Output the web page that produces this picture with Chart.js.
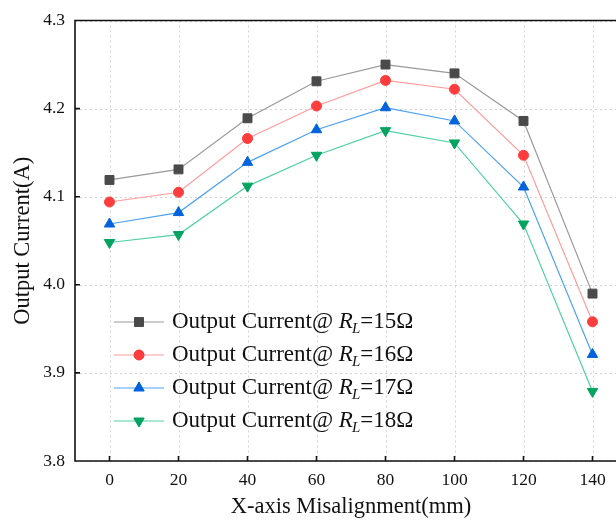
<!DOCTYPE html>
<html>
<head>
<meta charset="utf-8">
<script src="https://cdn.jsdelivr.net/npm/chart.js@4/dist/chart.umd.min.js"></script>
<style>
  html, body { margin: 0; padding: 0; background: #fff; overflow: hidden; }
  #wrap { width: 616px; height: 521px; overflow: hidden; }
</style>
</head>
<body>
<div id="wrap"><canvas id="chart" width="640" height="521"></canvas></div>
<script>
const misalignment = [0, 20, 40, 60, 80, 100, 120, 140];
const current15 = [4.119, 4.131, 4.189, 4.231, 4.250, 4.240, 4.186, 3.990];
const current16 = [4.094, 4.105, 4.166, 4.203, 4.232, 4.222, 4.147, 3.958];
const current17 = [4.069, 4.082, 4.139, 4.176, 4.201, 4.186, 4.111, 3.921];
const current18 = [4.048, 4.057, 4.112, 4.147, 4.175, 4.161, 4.069, 3.879];
const loadNames = ['15Ω', '16Ω', '17Ω', '18Ω'];
const yTicks = [3.8, 3.9, 4.0, 4.1, 4.2, 4.3];

const serif = '"Liberation Serif", "Times New Roman", serif';

const styles = [
    { line: '#9a9a9a', mark: '#4a4a4a', shape: 'rect', r: 6.3, rot: 0 },
    { line: '#ff9c9c', mark: '#ff3d3d', shape: 'circle', r: 5, rot: 0 },
    { line: '#4da2f0', mark: '#0062dc', shape: 'triangle', r: 6, rot: 0 },
    { line: '#52d0a2', mark: '#00a35f', shape: 'triangle', r: 6, rot: 180 }
];
const series = [current15, current16, current17, current18];

const datasets = series.map((vals, i) => ({
    label: 'Output Current@ RL=' + loadNames[i],
    data: vals.map((v, j) => ({ x: misalignment[j], y: v })),
    borderColor: styles[i].line,
    borderWidth: 1.2,
    backgroundColor: styles[i].mark,
    pointBackgroundColor: styles[i].mark,
    pointBorderColor: styles[i].mark,
    pointBorderWidth: 1,
    pointStyle: styles[i].shape,
    pointRadius: styles[i].r,
    pointRotation: styles[i].rot,
    tension: 0
}));

function marker(ctx, st, x, y) {
    ctx.save();
    ctx.fillStyle = st.mark;
    ctx.strokeStyle = st.mark;
    ctx.lineWidth = 1;
    Chart.helpers.drawPoint(ctx, { pointStyle: st.shape, radius: st.r, rotation: st.rot, borderWidth: 1 }, x, y);
    ctx.fill();
    ctx.restore();
}

const framePlugin = {
    id: 'frame',
    beforeDatasetsDraw(chart) {
        const { ctx, chartArea: a, scales: { x, y } } = chart;
        ctx.save();
        ctx.strokeStyle = '#d2d2d2';
        ctx.lineWidth = 1;
        ctx.setLineDash([2, 3]);
        ctx.beginPath();
        misalignment.forEach(v => {
            const px = Math.round(x.getPixelForValue(v)) + 0.5;
            ctx.moveTo(px, a.top);
            ctx.lineTo(px, a.bottom);
        });
        yTicks.forEach(v => {
            const py = Math.round(y.getPixelForValue(v)) + 0.5;
            ctx.moveTo(a.left, py);
            ctx.lineTo(a.right, py);
        });
        ctx.stroke();
        ctx.restore();
    },
    afterDatasetsDraw(chart) {
        const { ctx, chartArea: a, scales: { x, y } } = chart;
        ctx.save();
        ctx.strokeStyle = '#111';
        ctx.lineWidth = 1.6;
        ctx.beginPath();
        ctx.moveTo(a.right, a.top);
        ctx.lineTo(a.left, a.top);
        ctx.lineTo(a.left, a.bottom);
        ctx.lineTo(a.right, a.bottom);
        misalignment.forEach(v => {
            const px = x.getPixelForValue(v);
            ctx.moveTo(px, a.bottom);
            ctx.lineTo(px, a.bottom - 5);
        });
        yTicks.forEach(v => {
            const py = y.getPixelForValue(v);
            ctx.moveTo(a.left, py);
            ctx.lineTo(a.left + 5, py);
        });
        ctx.stroke();
        ctx.restore();
    },
    afterDraw(chart) {
        const ctx = chart.ctx;
        const rows = [322, 355, 388, 421];
        ctx.save();
        rows.forEach((ry, i) => {
            const st = styles[i];
            ctx.strokeStyle = st.line;
            ctx.lineWidth = 1.2;
            ctx.beginPath();
            ctx.moveTo(114, ry);
            ctx.lineTo(164, ry);
            ctx.stroke();
            marker(ctx, st, 139, ry);

            let tx = 172;
            ctx.fillStyle = '#111';
            ctx.textBaseline = 'middle';
            ctx.font = '23px ' + serif;
            let t = 'Output Current@ ';
            ctx.fillText(t, tx, ry);
            tx += ctx.measureText(t).width;
            ctx.font = 'italic 23px ' + serif;
            ctx.fillText('R', tx, ry);
            tx += ctx.measureText('R').width;
            ctx.font = 'italic 15px ' + serif;
            ctx.fillText('L', tx - 1, ry + 7);
            tx += ctx.measureText('L').width - 1;
            ctx.font = '23px ' + serif;
            ctx.fillText('=' + loadNames[i], tx, ry);
        });
        ctx.restore();
    }
};

new Chart(document.getElementById('chart'), {
    type: 'line',
    data: { datasets: datasets },
    plugins: [framePlugin],
    options: {
        responsive: false,
        animation: false,
        layout: { padding: { top: 17, right: 13, left: 0, bottom: 0 } },
        plugins: { legend: { display: false }, tooltip: { enabled: false } },
        scales: {
            x: {
                type: 'linear',
                min: -10,
                max: 150,
                afterBuildTicks: s => { s.ticks = misalignment.map(v => ({ value: v })); },
                afterFit: s => { s.height = 60; },
                grid: { display: false, drawTicks: false },
                border: { display: false },
                ticks: { color: '#111', padding: 9, font: { family: serif, size: 17.5 } },
                title: {
                    display: true,
                    text: 'X-axis Misalignment(mm)',
                    color: '#111',
                    padding: { top: 0, bottom: 0 },
                    font: { family: serif, size: 22.5 }
                }
            },
            y: {
                min: 3.8,
                max: 4.3,
                afterBuildTicks: s => { s.ticks = yTicks.map(v => ({ value: v })); },
                afterFit: s => { s.width = 75; },
                grid: { display: false, drawTicks: false },
                border: { display: false },
                ticks: {
                    color: '#111',
                    padding: 10,
                    font: { family: serif, size: 17.5 },
                    callback: v => v.toFixed(1)
                },
                title: {
                    display: true,
                    text: 'Output Current(A)',
                    color: '#111',
                    padding: { top: 10, bottom: 0 },
                    font: { family: serif, size: 22.5 }
                }
            }
        }
    }
});
</script>
</body>
</html>
